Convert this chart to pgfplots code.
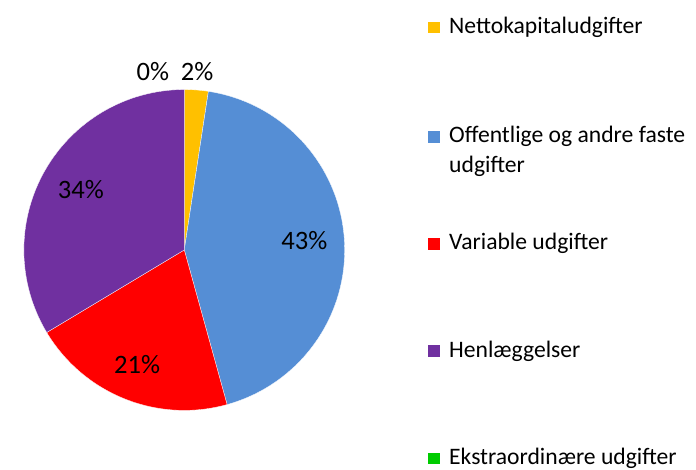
\documentclass[border=0pt]{standalone}
\usepackage{pgfplots}
\pgfplotsset{compat=1.18}
\usepackage{pgfplotstable}
\usepackage{fontspec}
\setmainfont{Carlito}
\definecolor{cNet}{HTML}{FFC000}
\definecolor{cOff}{HTML}{558ED5}
\definecolor{cVar}{HTML}{FF0000}
\definecolor{cHen}{HTML}{7030A0}
\definecolor{cEks}{HTML}{00CC00}
\pgfplotstableread{
idx value
0 2.4
1 43.3
2 20.7
3 33.6
4 0.0
}\piedata
\begin{document}
\pgfplotstablegetelem{0}{value}\of\piedata \let\vA\pgfplotsretval
\pgfplotstablegetelem{1}{value}\of\piedata \let\vB\pgfplotsretval
\pgfplotstablegetelem{2}{value}\of\piedata \let\vC\pgfplotsretval
\pgfplotstablegetelem{3}{value}\of\piedata \let\vD\pgfplotsretval
\pgfmathsetmacro{\aA}{90}
\pgfmathsetmacro{\aB}{\aA-3.6*\vA}
\pgfmathsetmacro{\aC}{\aB-3.6*\vB}
\pgfmathsetmacro{\aD}{\aC-3.6*\vC}
\pgfmathsetmacro{\aE}{\aD-3.6*\vD}
\begin{tikzpicture}[
  pct/.style={font=\fontsize{27bp}{32bp}\selectfont, inner sep=0pt, anchor=base},
  leg/.style={font=\fontsize{24bp}{29bp}\selectfont, inner sep=0pt, anchor=base west}]
\begin{axis}[width=696bp,height=477bp,scale only axis,
  xmin=0,xmax=696,ymin=0,ymax=477,hide axis,clip=false]
\addplot[fill=cNet, draw=white, line width=0.3pt, domain=\aB:\aA, samples=20, variable=\t]
  ({176+163*cos(\t)},{223+163*sin(\t)}) -- (axis cs:176,223) -- cycle;
\addplot[fill=cOff, draw=white, line width=0.3pt, domain=\aC:\aB, samples=120, variable=\t]
  ({176+163*cos(\t)},{223+163*sin(\t)}) -- (axis cs:176,223) -- cycle;
\addplot[fill=cVar, draw=white, line width=0.3pt, domain=\aD:\aC, samples=80, variable=\t]
  ({176+163*cos(\t)},{223+163*sin(\t)}) -- (axis cs:176,223) -- cycle;
\addplot[fill=cHen, draw=white, line width=0.3pt, domain=\aE:\aD, samples=100, variable=\t]
  ({176+163*cos(\t)},{223+163*sin(\t)}) -- (axis cs:176,223) -- cycle;
% percentage labels
\node[pct] at (axis cs:144,395) {0\%};
\node[pct] at (axis cs:189,395) {2\%};
\node[pct] at (axis cs:298,223) {43\%};
\node[pct] at (axis cs:128,97) {21\%};
\node[pct] at (axis cs:71,275) {34\%};
% legend
\fill[cNet] (axis cs:424,443) rectangle (axis cs:436,455);
\node[leg] at (axis cs:445,443) {Nettokapitaludgifter};
\fill[cOff] (axis cs:424,332) rectangle (axis cs:436,344);
\node[leg] at (axis cs:445,332) {Offentlige og andre faste};
\node[leg] at (axis cs:445,302) {udgifter};
\fill[cVar] (axis cs:424,223) rectangle (axis cs:436,235);
\node[leg] at (axis cs:445,223) {Variable udgifter};
\fill[cHen] (axis cs:424,114) rectangle (axis cs:436,126);
\node[leg] at (axis cs:445,114) {Henlæggelser};
\fill[cEks] (axis cs:424,5) rectangle (axis cs:436,17);
\node[leg] at (axis cs:445,5) {Ekstraordinære udgifter};
\end{axis}
\pgfresetboundingbox
\useasboundingbox (0,0) rectangle (696bp,477bp);
\end{tikzpicture}
\end{document}
